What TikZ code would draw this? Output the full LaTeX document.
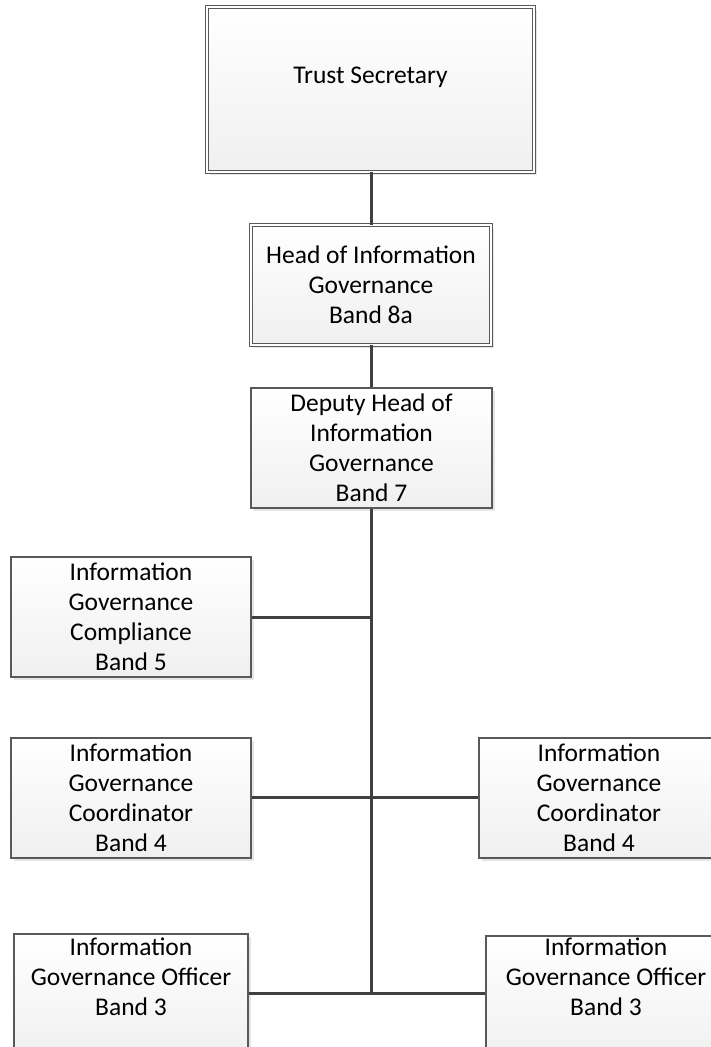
\documentclass[tikz,border=0pt]{standalone}
\usepackage{fontspec}
\setmainfont{Carlito}
\usetikzlibrary{shadows}
\tikzset{
  post/.style={rectangle, draw=black!65, line width=1.2pt,
    top color=white, bottom color=black!6,
    drop shadow={shadow xshift=3pt, shadow yshift=-3pt, fill=black!10, opacity=1}},
  seniorpost/.style={post, double=white, double distance=2.5pt, line width=0.9pt},
  posttext/.style={align=center, font=\fontsize{25.5}{30}\selectfont, text=black},
  link/.style={draw=black!75, line width=3pt}
}
\begin{document}
\begin{tikzpicture}[x=1pt, y=-1pt]
  \useasboundingbox (0,0) rectangle (710,1047);
  % posts
  \node[seniorpost, minimum width=327pt, minimum height=165pt] (ts) at (370.5,89.5) {};
  \node[posttext] (tsl) at (370.5,77) {Trust Secretary};
  \node[seniorpost, minimum width=240pt, minimum height=120pt, posttext] (head) at (371,285)
    {Head of Information\\Governance\\Band 8a};
  \node[post, minimum width=241pt, minimum height=120pt, posttext] (dep) at (371.5,448)
    {Deputy Head of\\Information\\Governance\\Band 7};
  \node[post, minimum width=240pt, minimum height=120pt, posttext] (comp) at (131,617)
    {Information\\Governance\\Compliance\\Band 5};
  \node[post, minimum width=240pt, minimum height=120pt, posttext] (cl) at (131,798)
    {Information\\Governance\\Coordinator\\Band 4};
  \node[post, minimum width=240pt, minimum height=120pt, posttext] (cr) at (599,798)
    {Information\\Governance\\Coordinator\\Band 4};
  \node[post, minimum width=234pt, minimum height=126pt] (ol) at (131,997) {};
  \node[posttext] (oll) at (131,977) {Information\\Governance Officer\\Band 3};
  \node[post, minimum width=240pt, minimum height=126pt] (or) at (606,999) {};
  \node[posttext] (orl) at (606,977) {Information\\Governance Officer\\Band 3};
  % connectors
  \coordinate (j1) at (371,617);
  \coordinate (j2) at (371,797);
  \coordinate (j3) at (371,993);
  \draw[link] (ts.south -| j1) -- (head.north -| j1);
  \draw[link] (head.south -| j1) -- (dep.north -| j1);
  \draw[link] (dep.south -| j1) -- (j3);
  \draw[link] (comp.east |- j1) -- (j1);
  \draw[link] (cl.east |- j2) -- (cr.west |- j2);
  \draw[link] (ol.east |- j3) -- (or.west |- j3);
\end{tikzpicture}
\end{document}
